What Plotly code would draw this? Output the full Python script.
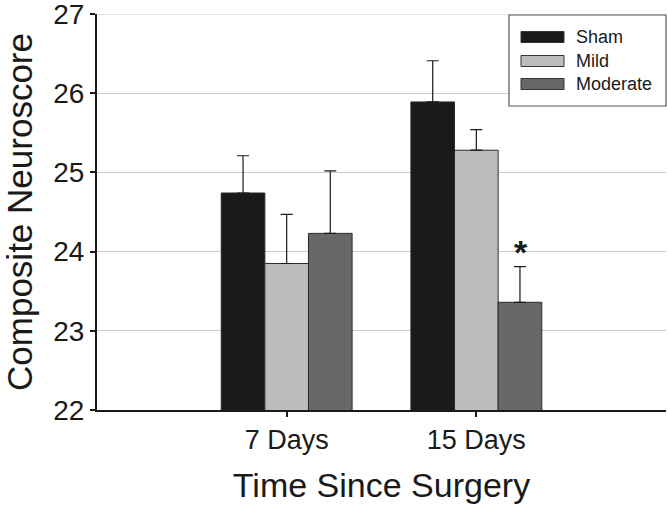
import plotly.graph_objects as go

categories = ["7 Days", "15 Days"]
series_names = ["Sham", "Mild", "Moderate"]
sham = [24.74, 25.89]
mild = [23.85, 25.28]
moderate = [24.23, 23.36]
sham_err = [0.47, 0.52]
mild_err = [0.62, 0.26]
moderate_err = [0.79, 0.45]
colors = ["#1a1a1a", "#bdbdbd", "#686868"]
y_range = [22, 27]

W, H = 668, 507
L, R, T, B = 97, 2, 14, 97
pw, ph = W - L - R, H - T - B

def px(x):
    return (x - L) / pw

def py(y):
    return 1 - (y - T) / ph

FONT = "Liberation Sans, Arial, sans-serif"
fig = go.Figure()
for name, vals, errs, col in zip(series_names, [sham, mild, moderate],
                                 [sham_err, mild_err, moderate_err], colors):
    fig.add_trace(go.Bar(
        name=name, x=categories, y=vals, marker_color=col,
        marker_line=dict(color="#2a2a2a", width=1),
        error_y=dict(type="data", symmetric=False, array=errs,
                     arrayminus=[0] * len(errs), color="#1a1a1a",
                     thickness=1.2, width=6),
        showlegend=False,
    ))

# top gridline (plotly clips gridlines at range ends)
fig.add_shape(type="line", xref="paper", yref="y", x0=0, x1=1,
              y0=y_range[1], y1=y_range[1], line=dict(color="#cccccc", width=1),
              layer="below")

# significance marker above 15 Days / Moderate
fig.add_annotation(x=1 + 0.23, y=moderate[1] + moderate_err[1], xref="x", yref="y",
                   text="<b>*</b>", showarrow=False, yanchor="bottom",
                   font=dict(size=34, color="#1a1a1a", family=FONT), yshift=-6, xshift=1)

# manual legend
bx0, bx1, by0, by1 = 509, 666, 15, 106
fig.add_shape(type="rect", xref="paper", yref="paper",
              x0=px(bx0), x1=px(bx1), y0=py(by1), y1=py(by0),
              line=dict(color="#555555", width=1.2), fillcolor="white", layer="above")
rows = [37, 61, 84]
for name, col, yc in zip(series_names, colors, rows):
    fig.add_shape(type="rect", xref="paper", yref="paper",
                  x0=px(521), x1=px(564), y0=py(yc + 5.5), y1=py(yc - 5.5),
                  line=dict(color="#333333", width=1), fillcolor=col, layer="above")
    fig.add_annotation(x=px(574), y=py(yc), xref="paper", yref="paper",
                       text=name, showarrow=False, xanchor="left", yanchor="middle",
                       font=dict(size=18, color="#1a1a1a", family=FONT))

fig.update_layout(
    width=W, height=H,
    margin=dict(l=L, r=R, t=T, b=B, autoexpand=False),
    paper_bgcolor="white", plot_bgcolor="white",
    barmode="group", bargap=0.31, bargroupgap=0,
    font=dict(family=FONT, color="#1a1a1a"),
    showlegend=False,
)
fig.update_xaxes(
    range=[-1, 2], showline=True, linecolor="#1a1a1a", linewidth=2,
    ticks="outside", ticklen=5, tickwidth=2, tickcolor="#1a1a1a",
    tickfont=dict(size=27), showgrid=False, automargin=False,
    title=dict(text="Time Since Surgery", font=dict(size=34), standoff=19),
)
fig.update_yaxes(
    range=y_range, dtick=1, showline=True, linecolor="#1a1a1a", linewidth=2,
    ticks="outside", ticklen=5, tickwidth=2, tickcolor="#1a1a1a",
    tickfont=dict(size=28), showgrid=True, gridcolor="#cccccc", gridwidth=1,
    zeroline=False, automargin=False, ticklabeloverflow="allow",
    title=dict(text="Composite Neuroscore", font=dict(size=35), standoff=13),
)

fig.write_html("out.html", config={"displayModeBar": False},
               post_script="document.body.style.margin='0';document.body.style.padding='0';")
